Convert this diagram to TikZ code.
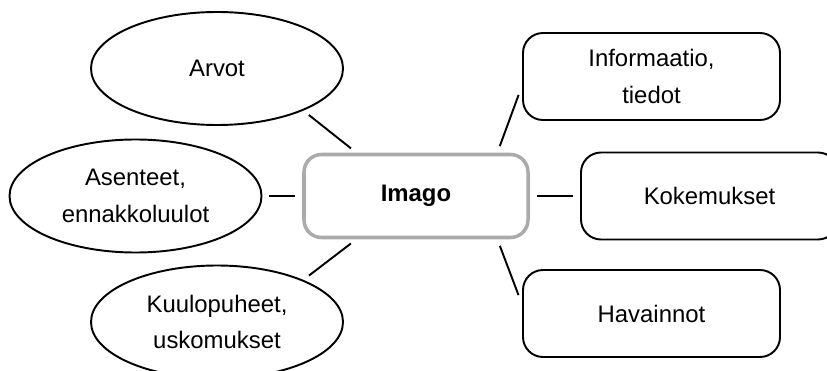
\documentclass[tikz,border=0pt]{standalone}
\usepackage{fontspec}
\setmainfont{Liberation Sans}
\usepackage{tikz}
\usetikzlibrary{shapes.geometric}

\newcommand{\kirjain}{\fontsize{13.6}{21}\selectfont}
\tikzset{
  soikio/.style={draw=black, line width=1.1pt, ellipse, inner sep=0pt,
    minimum width=5.04cm, minimum height=2.26cm, align=center},
  laatikko/.style={draw=black, line width=1.1pt, rounded corners=0.4cm,
    inner sep=0pt, minimum width=5.14cm, minimum height=1.74cm, align=center},
  keskus/.style={draw=black!33, line width=2pt, rounded corners=0.35cm,
    inner sep=0pt, minimum width=4.48cm, minimum height=1.66cm,
    font=\kirjain\bfseries},
  viiva/.style={black, line width=1.1pt, shorten <=0.14cm, shorten >=0.14cm}
}

\begin{document}
\begin{tikzpicture}[font=\kirjain]
\useasboundingbox (0cm,0cm) rectangle (16.54cm,-7.42cm);
\node[keskus] (imago) at (8.32cm,-3.92cm) {Imago};
\node[soikio] (arvot) at (4.34cm,-1.37cm) {Arvot};
\node[soikio] (asenteet) at (2.71cm,-3.92cm) {Asenteet,\\ennakkoluulot};
\node[soikio] (kuulo) at (4.34cm,-6.44cm) {Kuulopuheet,\\uskomukset};
\node[laatikko] (info) at (13.03cm,-1.53cm) {Informaatio,\\tiedot};
\node[laatikko] (koke) at (14.19cm,-3.92cm) {Kokemukset};
\node[laatikko] (havainnot) at (13.03cm,-6.27cm) {Havainnot};
\draw[viiva] (arvot.-26) -- (imago.144);
\draw[viiva] (asenteet.east) -- (imago.west);
\draw[viiva] (kuulo.26) -- (imago.-144);
\draw[viiva, shorten >=0.2cm] (imago.28) -- (info.184);
\draw[viiva] (imago.east) -- (koke.west);
\draw[viiva, shorten >=0.2cm] (imago.-28) -- (havainnot.176);
\end{tikzpicture}
\end{document}
